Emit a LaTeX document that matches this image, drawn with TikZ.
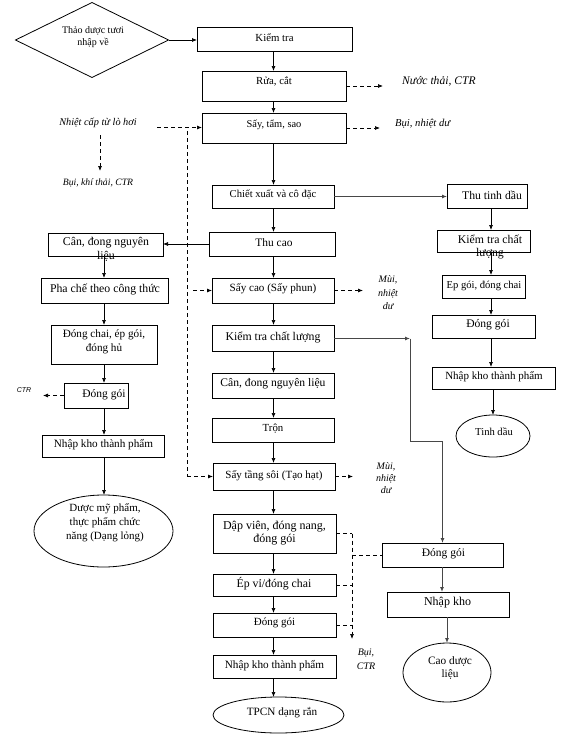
\documentclass[tikz,border=0pt]{standalone}
\usepackage{fontspec}
\setmainfont{Liberation Serif}
\newfontfamily\arialf{Liberation Sans}
\usetikzlibrary{arrows.meta,shapes.geometric}
\begin{document}
\begin{tikzpicture}[x=1pt,y=-1pt,
 box/.style={draw, line width=0.8pt, inner sep=0pt, outer sep=0pt},
 lbl/.style={inner sep=0pt, align=center, font=\fontsize{11}{13}\selectfont},
 note/.style={inner sep=0pt, align=center, font=\fontsize{11}{13}\selectfont\itshape},
 arr/.style={-{Latex[length=5pt,width=4pt]}, line width=0.7pt},
 garr/.style={arr, draw=black!72, line width=1pt},
 darr/.style={arr, dash pattern=on 4pt off 3pt},
 dln/.style={line width=0.7pt, dash pattern=on 4pt off 3pt},
]
\useasboundingbox (0,0) rectangle (564,736);

\coordinate (xc) at (273.5,0);
\coordinate (xr) at (491,0);
\coordinate (xl) at (104,0);

% ---------- centre column ----------
\node[box, diamond, minimum width=153pt, minimum height=75pt] (d0) at (92,40) {};
\node[lbl, font=\fontsize{10}{12.5}\selectfont] (d0t) at (93,37) {Thảo dược tươi\\nhập về};

\node[box, minimum width=155pt, minimum height=24pt] (kt) at (274.5,39) {};
\node[lbl, font=\fontsize{10.8}{13}\selectfont] (ktt) at (274.5,37.5) {Kiểm tra};

\node[box, minimum width=144pt, minimum height=30pt] (rc) at (274,86) {};
\node[lbl, font=\fontsize{10.8}{13}\selectfont] (rct) at (274,81) {Rửa, cắt};

\node[box, minimum width=144pt, minimum height=30pt] (sts) at (274,128) {};
\node[lbl, font=\fontsize{10.4}{13}\selectfont] (stst) at (274,124.5) {Sấy, tẩm, sao};

\node[box, minimum width=122pt, minimum height=23pt] (cx) at (273,196.5) {};
\node[lbl, font=\fontsize{10.6}{13}\selectfont] (cxt) at (273,195) {Chiết xuất và cô đặc};

\node[box, minimum width=126pt, minimum height=24pt] (tc) at (272,244) {};
\node[lbl, font=\fontsize{11.4}{13}\selectfont] (tct) at (274,243) {Thu cao};

\node[box, minimum width=122pt, minimum height=25pt] (sc) at (273,290.5) {};
\node[lbl, font=\fontsize{11.1}{13}\selectfont] (sct) at (273,289) {Sấy cao (Sấy phun)};

\node[box, minimum width=122pt, minimum height=26pt] (ktcl) at (273,338) {};
\node[lbl, font=\fontsize{11.8}{13}\selectfont] (ktclt) at (273,337) {Kiểm tra chất lượng};

\node[box, minimum width=122pt, minimum height=25pt] (cd) at (273,385.5) {};
\node[lbl, font=\fontsize{11.6}{13}\selectfont] (cdt) at (273,384) {Cân, đong nguyên liệu};

\node[box, minimum width=122pt, minimum height=24pt] (tr) at (273,430) {};
\node[lbl, font=\fontsize{10.8}{13}\selectfont] (trt) at (273,428.5) {Trộn};

\node[box, minimum width=122pt, minimum height=27pt] (stss) at (274,476.5) {};
\node[lbl, font=\fontsize{11}{13}\selectfont] (stsst) at (274,476) {Sấy tầng sôi (Tạo hạt)};

\node[box, minimum width=123pt, minimum height=39pt] (dv) at (274.5,533.5) {};
\node[lbl, font=\fontsize{12}{13.5}\selectfont] (dvt) at (274.5,533) {Dập viên, đóng nang,\\đóng gói};

\node[box, minimum width=123pt, minimum height=22pt] (ev) at (274.5,585) {};
\node[lbl, font=\fontsize{11.8}{13}\selectfont] (evt) at (274,584) {Ép vỉ/đóng chai};

\node[box, minimum width=123pt, minimum height=24pt] (dg) at (274.5,625) {};
\node[lbl, font=\fontsize{11}{13}\selectfont] (dgt) at (274.5,623) {Đóng gói};

\node[box, minimum width=123pt, minimum height=23pt] (nk) at (274.5,666.5) {};
\node[lbl, font=\fontsize{11.2}{13}\selectfont] (nkt) at (274.5,665.5) {Nhập kho thành phẩm};

\node[box, ellipse, minimum width=131pt, minimum height=36pt] (tp) at (278.5,715) {};
\node[lbl, font=\fontsize{11.2}{13}\selectfont] (tpt) at (282,713) {TPCN dạng rắn};

% ---------- right column ----------
\node[box, minimum width=80pt, minimum height=24pt] (ttd) at (487,196) {};
\node[lbl, font=\fontsize{11.7}{13}\selectfont] (ttdt) at (492,195) {Thu tinh dầu};

\node[box, minimum width=93pt, minimum height=22pt] (ktr) at (483.5,241) {};
\node[lbl, font=\fontsize{11.8}{13}\selectfont] (ktrt) at (490,247) {Kiểm tra chất\\lượng};

\node[box, minimum width=83pt, minimum height=23pt] (egc) at (483.5,286.5) {};
\node[lbl, font=\fontsize{10.6}{13}\selectfont] (egct) at (484,285.5) {Ep gói, đóng chai};

\node[box, minimum width=103pt, minimum height=23pt] (dgr) at (483.5,326.5) {};
\node[lbl, font=\fontsize{11.6}{13}\selectfont] (dgrt) at (488,325) {Đóng gói};

\node[box, minimum width=123pt, minimum height=22pt] (nkr) at (493.5,378) {};
\node[lbl, font=\fontsize{11}{13}\selectfont] (nkrt) at (494,377) {Nhập kho thành phẩm};

\node[box, ellipse, minimum width=74pt, minimum height=42pt] (td) at (493,436) {};
\node[lbl, font=\fontsize{10.6}{13}\selectfont] (tdt) at (494,432) {Tinh dầu};

% ---------- left column ----------
\node[box, minimum width=115pt, minimum height=23pt] (cdl) at (105.5,244.5) {};
\node[lbl, font=\fontsize{11.8}{14}\selectfont] (cdlt) at (106,249) {Cân, đong nguyên\\liệu};

\node[box, minimum width=127pt, minimum height=25pt] (pc) at (104.5,290.5) {};
\node[lbl, font=\fontsize{11.8}{13}\selectfont] (pct) at (105,289.5) {Pha chế theo công thức};

\node[box, minimum width=106pt, minimum height=39pt] (dc) at (104,344.5) {};
\node[lbl, font=\fontsize{11.2}{14}\selectfont] (dct) at (104,341.5) {Đóng chai, ép gói,\\đóng hủ};

\node[box, minimum width=64pt, minimum height=25pt] (dgl) at (96,395.5) {};
\node[lbl, font=\fontsize{11.5}{13}\selectfont] (dglt) at (104,394.5) {Đóng gói};

\node[box, minimum width=122pt, minimum height=22pt] (nkl) at (103,446) {};
\node[lbl, font=\fontsize{11.2}{13}\selectfont] (nklt) at (103.5,445) {Nhập kho thành phẩm};

\node[box, ellipse, minimum width=139pt, minimum height=72pt] (dmp) at (103.5,531) {};
\node[lbl, font=\fontsize{11}{14}\selectfont] (dmpt) at (105,523) {Dược mỹ phẩm,\\thực phẩm chức\\năng (Dạng lỏng)};

% ---------- bottom right ----------
\node[box, minimum width=121pt, minimum height=24pt] (dgb) at (442.5,555) {};
\node[lbl, font=\fontsize{11.5}{13}\selectfont] (dgbt) at (443.5,553.5) {Đóng gói};

\node[box, minimum width=122pt, minimum height=25pt] (nkb) at (448,604.5) {};
\node[lbl, font=\fontsize{12}{13}\selectfont] (nkbt) at (447.5,603) {Nhập kho};

\node[box, ellipse, minimum width=88pt, minimum height=59pt] (cao) at (447,672.5) {};
\node[lbl, font=\fontsize{11.3}{13.5}\selectfont] (caot) at (450,668) {Cao dược\\liệu};

% ---------- notes ----------
\node[note, font=\fontsize{11.6}{13}\selectfont\itshape, anchor=west] (n1) at (402,81) {Nước thải, CTR};
\node[note, font=\fontsize{10.6}{13}\selectfont\itshape, anchor=west] (n2) at (395,124) {Bụi, nhiệt dư};
\node[note, font=\fontsize{10.3}{13}\selectfont\itshape] (n3) at (98,123) {Nhiệt cấp từ lò hơi};
\node[note, font=\fontsize{9.7}{13}\selectfont\itshape] (n4) at (98,183) {Bụi, khí thải, CTR};
\node[note, font=\fontsize{10}{13.5}\selectfont\itshape] (n5) at (388,293) {Mùi,\\nhiệt\\dư};
\node[note, font=\fontsize{10}{12}\selectfont\itshape] (n6) at (386,478) {Mùi,\\nhiệt\\dư};
\node[inner sep=0pt, font=\fontsize{7}{8}\selectfont\arialf\itshape] (n7) at (24,390.5) {CTR};
\node[note, font=\fontsize{10}{14}\selectfont\itshape] (n8) at (366,659) {Bụi,\\CTR};

% ---------- solid arrows ----------
\draw[arr] (d0.east) -- (kt.west |- d0.east);
\foreach \a/\b in {kt/rc, rc/sts, sts/cx, cx/tc, tc/sc, sc/ktcl, ktcl/cd, cd/tr, tr/stss, stss/dv, dv/ev, ev/dg, dg/nk}
  \draw[arr] (\a.south -| xc) -- (\b.north -| xc);
\draw[arr] (nk.south -| xc) -- (tp.north -| xc);

\draw[garr] (cx.east) -- (cx.east -| ttd.west);
\foreach \a/\b in {ttd/ktr, ktr/egc, egc/dgr, dgr/nkr}
  \draw[arr] (\a.south -| xr) -- (\b.north -| xr);
\draw[arr] (nkr.south -| td.north) -- (td.north);

\draw[arr] (tc.west) -- (tc.west -| cdl.east);
\foreach \a/\b in {cdl/pc, pc/dc, dc/dgl, dgl/nkl, nkl/dmp}
  \draw[arr] (\a.south -| xl) -- (\b.north -| xl);

\coordinate (k1) at (410,338.5);
\coordinate (k2) at (410,441);
\draw[garr] (ktcl.east |- k1) -- (k1);
\draw[garr] (k1) -- (k2) -| (dgb.north);

\draw[garr] (dgb.south -| 442,0) -- (nkb.north -| 442,0);
\draw[garr] (nkb.south -| cao.north) -- (cao.north);

% ---------- dashed ----------
\coordinate (w1) at (383,86);
\draw[darr] (rc.east) -- (w1);
\coordinate (w2) at (380,128);
\draw[darr] (sts.east) -- (w2);

\coordinate (h0) at (157,127.5);
\draw[darr] (h0) -- (h0 -| sts.west);
\coordinate (v0) at (187,131);
\coordinate (v1) at (187,476.5);
\draw[dln] (v0) -- (v1);
\draw[darr] (v1) -- (v1 -| stss.west);
\coordinate (v2) at (193,290.5);
\draw[darr] (v2) -- (v2 -| sc.west);

\coordinate (b0) at (100,135);
\coordinate (b1) at (100,171);
\draw[darr] (b0) -- (b1);

\coordinate (w3) at (363,290.5);
\draw[darr] (sc.east) -- (w3);
\coordinate (w4) at (353,476.5);
\draw[darr] (stss.east) -- (w4);
\coordinate (w5) at (43,395.5);
\draw[darr] (dgl.west) -- (w5);

\coordinate (r0) at (352,533.5);
\coordinate (r1) at (352,639);
\draw[dln] (dv.east) -- (r0);
\draw[darr] (r0) -- (r1);
\draw[dln] (ev.east) -- (ev.east -| r0);
\draw[dln] (dg.east) -- (dg.east -| r0);
\coordinate (r2) at (352,555);
\draw[dln] (r2) -- (dgb.west);

\end{tikzpicture}
\end{document}
